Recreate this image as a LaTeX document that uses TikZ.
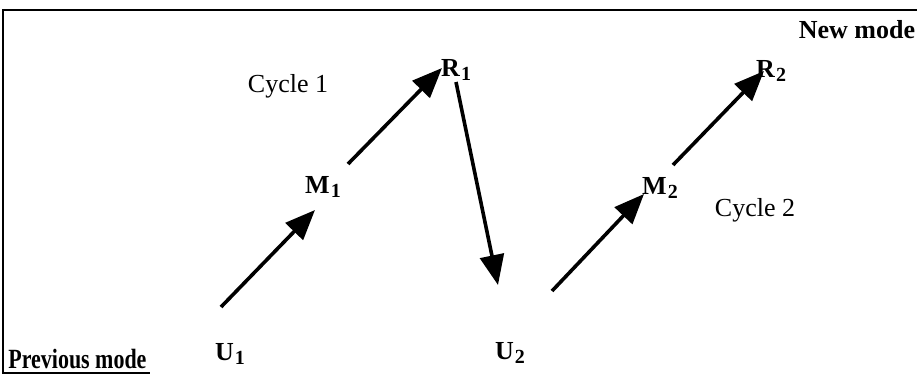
\documentclass[tikz,border=0pt]{standalone}
\usepackage{fontspec}
\setmainfont{Liberation Serif}
\usetikzlibrary{arrows.meta}
\newcommand{\lbl}[2]{\textbf{#1}\kern0.5pt\raisebox{-0.35ex}{\fontsize{10}{10}\selectfont\bfseries #2}}
\begin{document}
\begin{tikzpicture}[x=0.5pt,y=-0.5pt,
  frame/.style={line width=0.8pt},
  flow/.style={line width=1.8pt,-{Triangle[length=15pt,width=12pt]}},
  tag/.style={font=\fontsize{13}{15}\selectfont\bfseries,inner sep=0pt},
  plain/.style={font=\fontsize{13}{15}\selectfont,inner sep=0pt}]
\useasboundingbox (0,0) rectangle (917,375);
% frame
\draw[frame] (917,10) -- (3,10) -- (3,373) -- (150,373);
% labels
\node[tag] (newmode) at (857,30) {New mode};
\node[tag,anchor=west] (prevmode) at (8,359) {\scalebox{0.845}[1.07]{Previous mode}};
\node[plain] (cyc1) at (288,86) {Cycle 1};
\node[plain] (cyc2) at (755,210) {Cycle 2};
\node[tag] (U1) at (230,354) {\lbl{U}{1}};
\node[tag] (M1) at (323,187) {\lbl{M}{1}};
\node[tag] (R1) at (456,70) {\lbl{R}{1}};
\node[tag] (U2) at (510,353) {\lbl{U}{2}};
\node[tag] (M2) at (660,188) {\lbl{M}{2}};
\node[tag] (R2) at (771,71) {\lbl{R}{2}};
% arrow ends
\coordinate (a1s) at (221,307); \coordinate (a1e) at (315,210);
\coordinate (a2s) at (348,164); \coordinate (a2e) at (442,68);
\coordinate (a3s) at (456,82);  \coordinate (a3e) at (498,285);
\coordinate (a4s) at (552,291); \coordinate (a4e) at (644,194);
\coordinate (a5s) at (673,165); \coordinate (a5e) at (764,71);
\draw[flow] (a1s) -- (a1e);
\draw[flow] (a2s) -- (a2e);
\draw[flow] (a3s) -- (a3e);
\draw[flow] (a4s) -- (a4e);
\draw[flow] (a5s) -- (a5e);
\end{tikzpicture}
\end{document}
